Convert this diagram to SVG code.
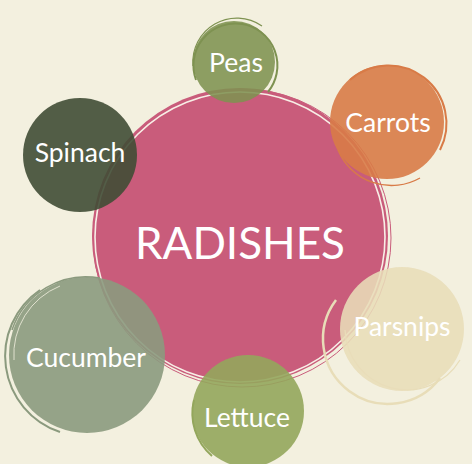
<svg xmlns="http://www.w3.org/2000/svg" width="472" height="464" viewBox="0 0 472 464">
<style>
.lbl{font-family:"Lato","Liberation Sans",sans-serif;fill:#ffffff;text-anchor:middle;font-size:26.5px}
.ring{fill:none}
</style>
<rect x="0" y="0" width="472" height="464" fill="#F3F0DF"/>
<g id="radishes">
<circle cx="240" cy="236" r="148" fill="#C95C7B"/>
<circle class="ring" cx="240" cy="237" r="145" stroke="#F8EEE6" stroke-width="1.6"/>
<circle class="ring" cx="242" cy="238" r="149" stroke="#C95C7B" stroke-width="1"/>
<text x="240" y="259" style="font-family:'Lato','Liberation Sans',sans-serif;font-size:44px;fill:#fff;text-anchor:middle">RADISHES</text>
</g>
<g id="peas">
<path class="ring" d="M196 80 A42 42 0 1 1 268 92" stroke="#7E9251" stroke-width="2"/>
<path class="ring" d="M193 66 A44 44 0 0 1 262 26" stroke="#7E9251" stroke-width="1.2"/>
<circle cx="234" cy="62" r="41" fill="#7E9251" fill-opacity="0.88"/>
<text class="lbl" x="236" y="72">Peas</text>
</g>
<g id="carrots">
<path class="ring" d="M350 80 A58 58 0 0 1 440 150" stroke="#D87B47" stroke-width="2"/>
<path class="ring" d="M338 150 A58 58 0 0 0 420 178" stroke="#D87B47" stroke-width="1.4"/>
<circle cx="387" cy="122" r="57" fill="#D87B47" fill-opacity="0.9"/>
<text class="lbl" x="388" y="132">Carrots</text>
</g>
<g id="spinach">
<circle cx="80" cy="155" r="57" fill="#404C35" fill-opacity="0.9"/>
<text class="lbl" x="80" y="162">Spinach</text>
</g>
<g id="cucumber">
<path class="ring" d="M60 432 A80 80 0 0 1 40 290" stroke="#8B9A7E" stroke-width="2"/>
<path class="ring" d="M12 330 A78 78 0 0 1 100 278" stroke="#8B9A7E" stroke-width="1.5"/>
<circle cx="87" cy="355" r="78" fill="#8B9A7E" fill-opacity="0.9"/>
<path class="ring" d="M14 360 A74 74 0 0 1 60 286" stroke="#F3F0DF" stroke-width="0.8"/>
<text class="lbl" x="86" y="367">Cucumber</text>
</g>
<g id="parsnips">
<path class="ring" d="M336 300 A64 64 0 0 0 440 378" stroke="#E8DDB8" stroke-width="2.5"/>
<path class="ring" d="M345 330 A62 62 0 0 0 460 360" stroke="#E8DDB8" stroke-width="1.2"/>
<circle cx="402" cy="329" r="62" fill="#E8DDB8" fill-opacity="0.88"/>
<text class="lbl" x="402" y="336">Parsnips</text>
</g>
<g id="lettuce">
<path class="ring" d="M194 400 A56 56 0 0 0 212 456" stroke="#93A65C" stroke-width="2"/>
<circle cx="248" cy="411" r="56" fill="#93A65C" fill-opacity="0.9"/>
<text class="lbl" x="247" y="427">Lettuce</text>
</g>
</svg>
